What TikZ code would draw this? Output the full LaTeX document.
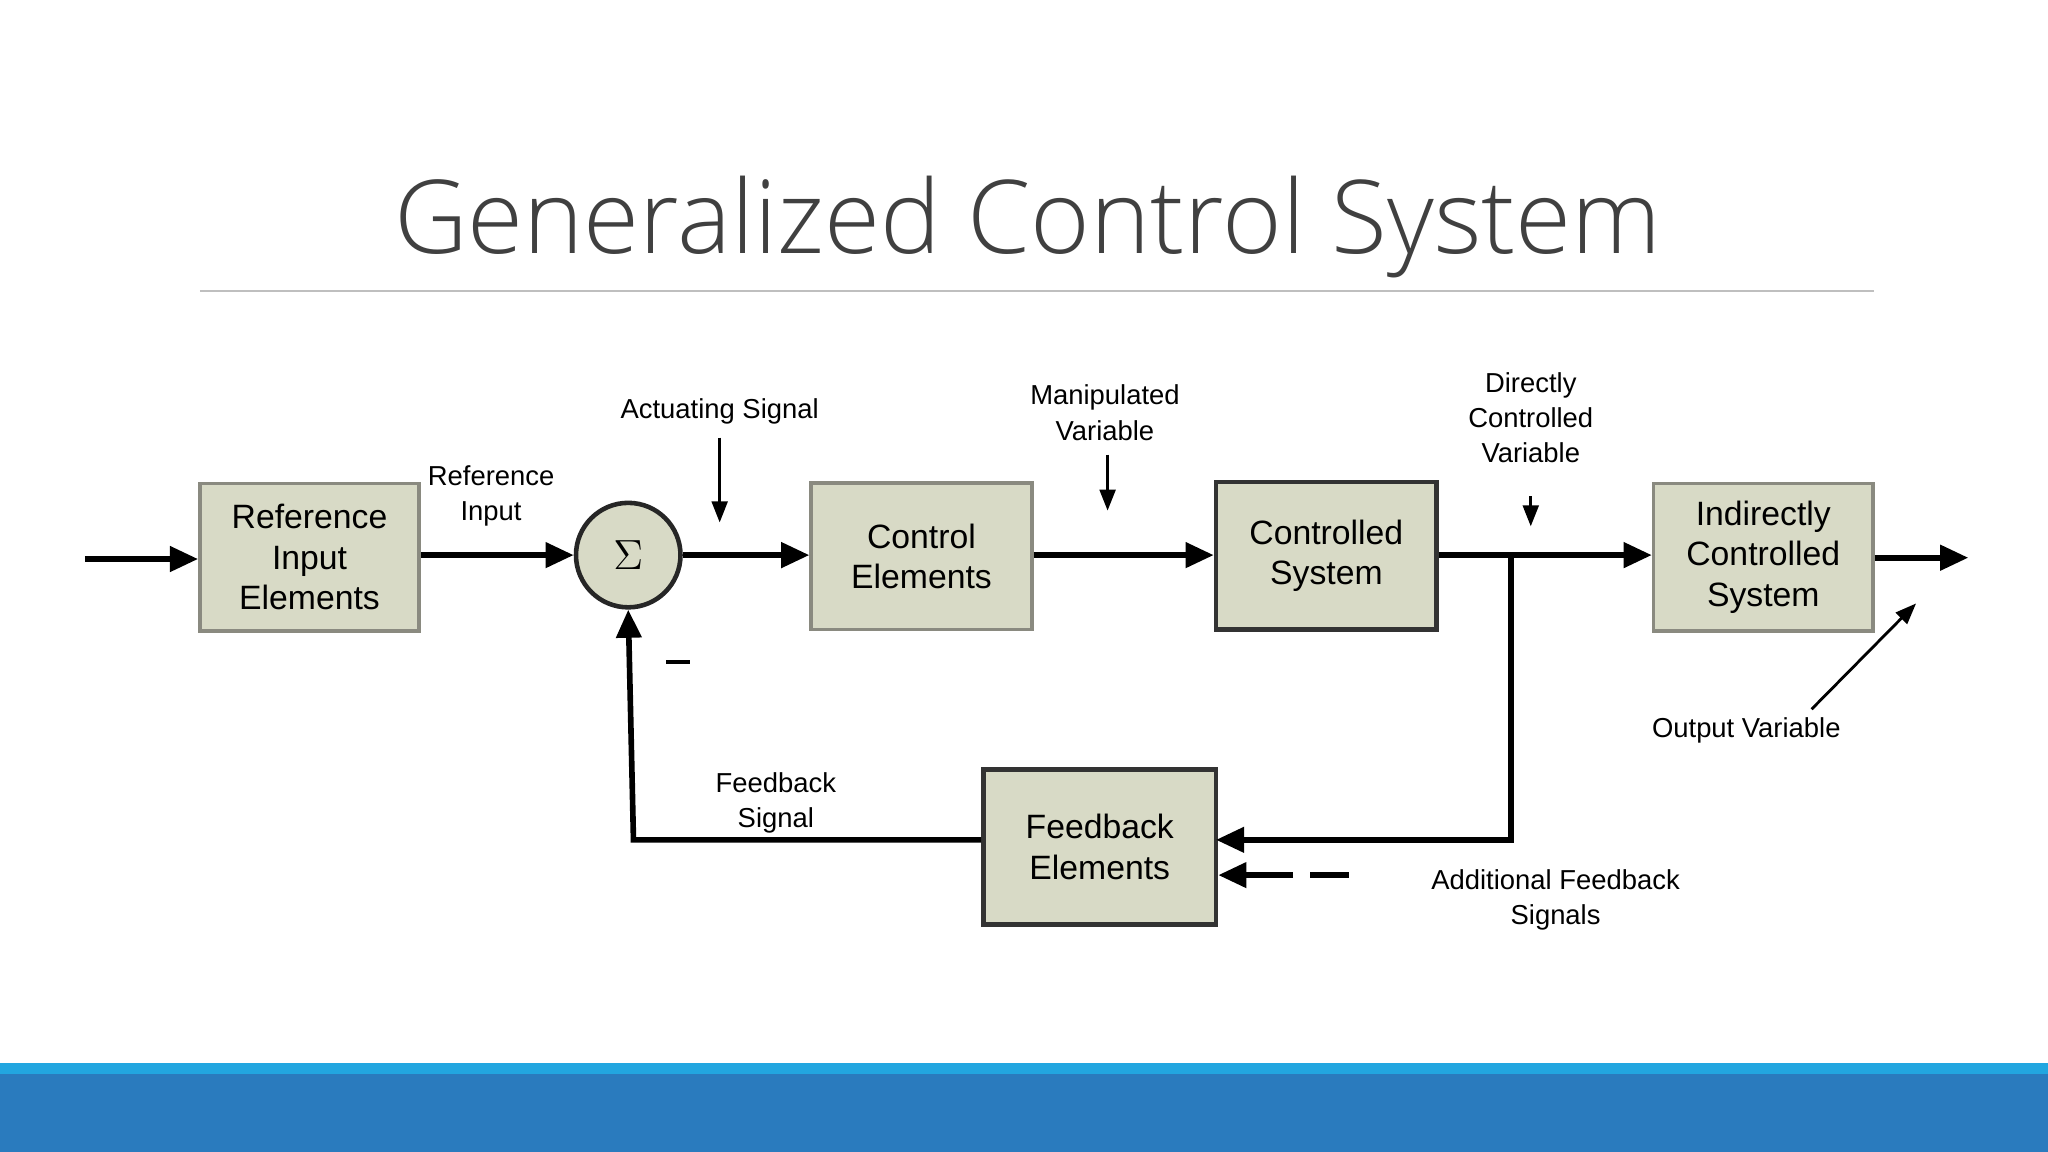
\documentclass[tikz,border=0pt]{standalone}
\usepackage{fontspec}
\setmainfont{Liberation Sans}
\newfontfamily\titlefont{Open Sans Light}
\usetikzlibrary{arrows.meta}
\definecolor{boxfill}{HTML}{D8DAC6}
\definecolor{boxline}{HTML}{8A8A80}
\definecolor{barlight}{HTML}{22A6E0}
\definecolor{bardark}{HTML}{2A7BBE}
\definecolor{titlegray}{HTML}{404040}
\tikzset{
 blk/.style={draw=boxline,fill=boxfill,line width=1pt,align=center,font=\fontsize{9.6}{11.5}\selectfont,inner sep=0pt},
 dblk/.style={blk,draw=black!80,line width=1.3pt},
 lbl/.style={align=center,font=\fontsize{7.8}{10}\selectfont,inner sep=0pt},
 flow/.style={line width=1.6pt,-{Triangle[length=8pt,width=7pt]}},
 thin/.style={line width=0.8pt,-{Triangle[length=6pt,width=4.5pt]}}
}
\begin{document}
\begin{tikzpicture}[x=0.013061cm,y=-0.013061cm]
\useasboundingbox (0,0) rectangle (1568,882);
\fill[barlight] (0,814) rectangle (1568,822);
\fill[bardark] (0,822) rectangle (1568,882);
\node[text=titlegray,font=\titlefont\fontsize{29}{34}\selectfont] (title) at (787,174) {Generalized Control System};
\draw[black!25,line width=0.6pt] (153,223) -- (1435,223);
\node[blk,minimum width=2.194cm,minimum height=1.476cm] (rie) at (237,426.5) {Reference\\Input\\Elements};
\node[draw=black!85,line width=1.3pt,fill=boxfill,circle,minimum size=1.045cm,inner sep=0pt,font=\fontsize{13}{13}\selectfont] (sum) at (481,425) {$\Sigma$};
\node[blk,minimum width=2.207cm,minimum height=1.463cm] (ce) at (705.5,426) {Control\\Elements};
\node[dblk,minimum width=2.207cm,minimum height=1.476cm] (cs) at (1015.5,425.5) {Controlled\\System};
\node[blk,minimum width=2.194cm,minimum height=1.476cm] (ics) at (1350,426.5) {Indirectly\\Controlled\\System};
\node[dblk,minimum width=2.325cm,minimum height=1.554cm] (fe) at (842,648.5) {Feedback\\Elements};
\coordinate (in) at (65,428);
\coordinate (out) at (1507,427);
\draw[flow] (in) -- (rie.west|-in);
\draw[flow] (rie.east|-sum) -- (sum.west);
\draw[flow] (sum.east) -- (ce.west|-sum);
\draw[flow] (ce.east|-sum) -- (cs.west|-sum);
\draw[flow] (cs.east|-sum) -- (ics.west|-sum);
\draw[flow] (ics.east|-out) -- (out);
\coordinate (br) at (1157,425);
\coordinate (fbin) at (931,643);
\draw[flow] (br) |- (fbin);
\coordinate (fbl) at (485,643);
\draw[flow] (fe.west|-fbl) -- (fbl) -- (sum.south);
\coordinate (d1) at (990,670);
\draw[flow] (d1) -- (fe.east|-d1);
\draw[line width=1.6pt] (1003,670) -- (1033,670);
\draw[line width=1pt] (510,507) -- (528,507);
\node[lbl] (ri) at (376,380) {Reference\\Input};
\node[lbl] (as) at (551,315) {Actuating Signal};
\node[lbl] (mv) at (846,316) {Manipulated\\Variable};
\node[lbl] (dcv) at (1172,320) {Directly\\Controlled\\Variable};
\node[lbl] (ov) at (1337,559) {Output Variable};
\node[lbl] (fs) at (594,615) {Feedback\\Signal};
\node[lbl] (afs) at (1191,689) {Additional Feedback\\Signals};
\coordinate (a1) at (551,335); \coordinate (a2) at (551,400);
\coordinate (m1) at (848,348); \coordinate (m2) at (848,391);
\coordinate (c1) at (1172,380); \coordinate (c2) at (1172,403);
\coordinate (o1) at (1387,543); \coordinate (o2) at (1467,462);
\draw[thin] (a1) -- (a2);
\draw[thin] (m1) -- (m2);
\draw[thin] (c1) -- (c2);
\draw[thin] (o1) -- (o2);
\end{tikzpicture}
\end{document}
